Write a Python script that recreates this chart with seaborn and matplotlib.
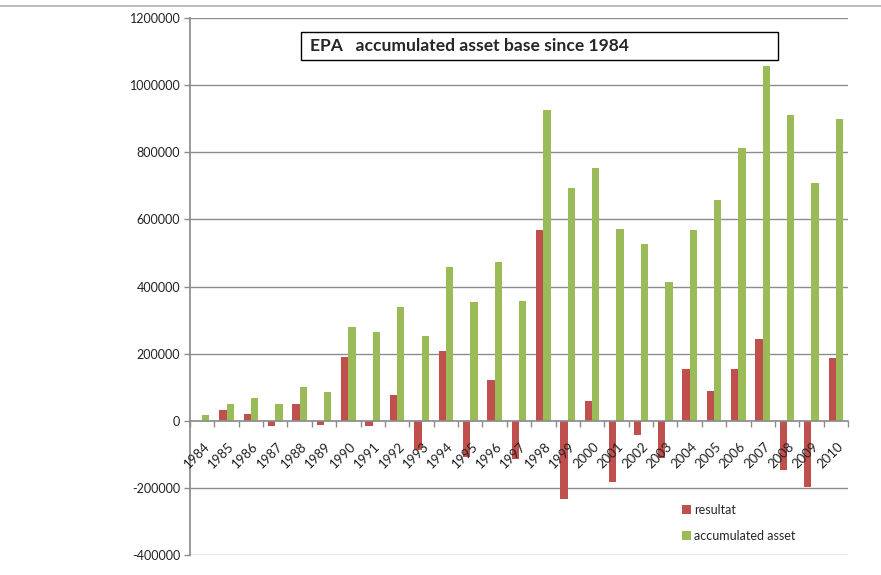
import numpy as np
import pandas as pd
import matplotlib
matplotlib.use("Agg")
import matplotlib.pyplot as plt
import matplotlib.transforms as mtransforms
from matplotlib.patches import Patch, Rectangle
from matplotlib.lines import Line2D
from matplotlib.ticker import MultipleLocator
import seaborn as sns

years = ['1984', '1985', '1986', '1987', '1988', '1989', '1990', '1991', '1992',
         '1993', '1994', '1995', '1996', '1997', '1998', '1999', '2000', '2001',
         '2002', '2003', '2004', '2005', '2006', '2007', '2008', '2009', '2010']
resultat = [0, 33000, 19000, -17000, 50000, -14000, 191000, -17000, 77000,
            -86000, 207000, -108000, 120000, -113000, 568000, -232000, 60000, -182000,
            -43000, -110000, 154000, 89000, 154000, 243000, -146000, -197000, 187000]
accumulated = [18000, 51000, 69000, 50000, 102000, 87000, 279000, 264000, 338000,
               252000, 459000, 354000, 474000, 357000, 927000, 693000, 753000, 570000,
               526000, 414000, 567000, 658000, 813000, 1057000, 910000, 708000, 898000]
series_names = ['resultat', 'accumulated asset']
colors = ['#C0504D', '#9BBB59']

sns.set_theme(style='white')
plt.rcParams['font.family'] = ['Lato', 'DejaVu Sans']

df = pd.DataFrame({
    'year': years * 2,
    'value': resultat + accumulated,
    'series': [series_names[0]] * len(years) + [series_names[1]] * len(years),
})

fig = plt.figure(figsize=(8.81, 5.75), dpi=100)
ax = fig.add_axes([190 / 881, 1 - 555 / 575, (848 - 190) / 881, (555 - 18) / 575])

sns.barplot(data=df, x='year', y='value', hue='series', palette=colors,
            width=0.6, gap=0, linewidth=0, saturation=1, legend=False, ax=ax)

grid_col = '#8c8c8c'
ax.set_xlim(-0.5, len(years) - 0.5)
ax.set_ylim(-400000, 1200000)
ax.yaxis.set_major_locator(MultipleLocator(200000))
ax.yaxis.set_major_formatter(matplotlib.ticker.FuncFormatter(lambda v, p: '%d' % v))
ax.grid(False)
# gridlines behind the bars, axis labels above them
for v in ax.get_yticks():
    if v != 0:
        ax.axhline(v, color=grid_col, lw=1, zorder=0.5)
ax.set_axisbelow(False)
ax.set_xlabel('')
ax.set_ylabel('')

for s in ['top', 'right']:
    ax.spines[s].set_visible(False)
ax.spines['left'].set_color(grid_col)
ax.spines['bottom'].set_color(grid_col)
ax.spines['bottom'].set_position(('data', 0))

ax.tick_params(axis='y', left=True, length=4, width=1, color=grid_col,
               labelsize=9, labelcolor='#222222', pad=3)
ax.set_xticks(np.arange(len(years)))
ax.set_xticks(np.arange(len(years) + 1) - 0.5, minor=True)
ax.tick_params(axis='x', which='major', length=0, labelsize=9.5,
               labelcolor='#222222', pad=14)
ax.tick_params(axis='x', which='minor', bottom=True, length=4, width=1,
               color=grid_col, direction='out')
shift = mtransforms.ScaledTranslation(1 / 100, 0, fig.dpi_scale_trans)
for lab in ax.get_xticklabels():
    lab.set_rotation(45)
    lab.set_ha('right')
    lab.set_va('top')
    lab.set_rotation_mode('anchor')
    lab.set_transform(lab.get_transform() + shift)

handles = [Patch(facecolor=c, edgecolor='none') for c in colors]
fig.legend(handles, series_names, loc='upper left',
           bbox_to_anchor=(682 / 881, 1 - 504 / 575), frameon=False,
           fontsize=9, handlelength=0.7, handleheight=0.7, handletextpad=0.3,
           labelspacing=1.1, borderpad=0, borderaxespad=0)

# title box
fig.patches.append(Rectangle((301 / 881, 1 - 60 / 575), 477 / 881, 28 / 575,
                             transform=fig.transFigure, facecolor='white',
                             edgecolor='black', lw=1, zorder=5))
fig.text(310 / 881, 1 - 46 / 575, 'EPA   accumulated asset base since 1984',
         fontsize=12.6, fontweight='bold', va='center', ha='left', zorder=6)

# screenshot border line at top
fig.add_artist(Line2D([0, 1], [1 - 6 / 575, 1 - 6 / 575], transform=fig.transFigure,
                      color='#b0b0b0', lw=1.2))

fig.savefig('out.png', dpi=100)
